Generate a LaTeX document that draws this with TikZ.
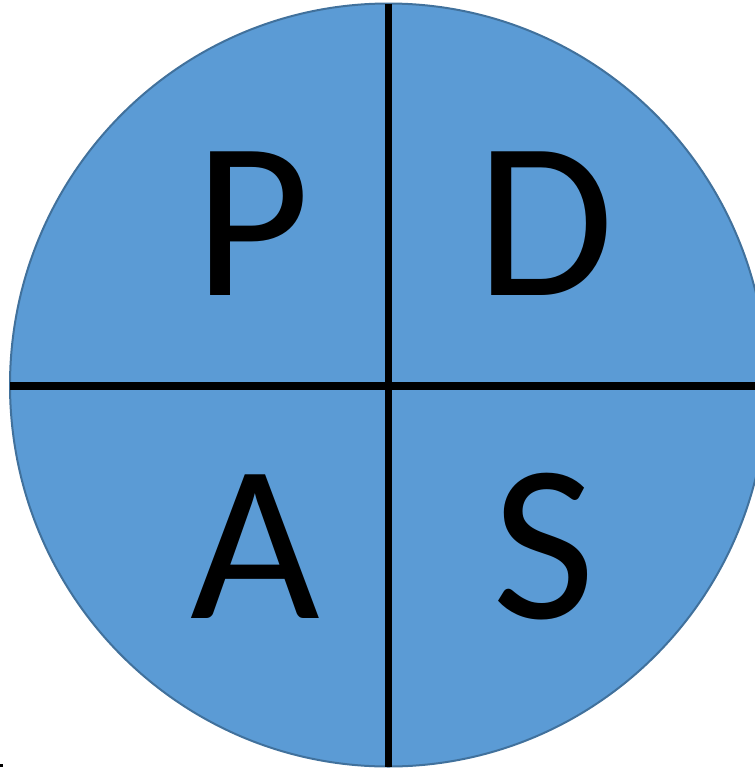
\documentclass[tikz,border=0pt]{standalone}
\usepackage{fontspec}
\setmainfont{Carlito}
\usetikzlibrary{shapes.geometric}
\definecolor{pdasfill}{HTML}{5B9BD5}
\definecolor{pdasedge}{HTML}{41719C}
\tikzset{
  quadletter/.style={inner sep=0pt, outer sep=0pt, anchor=base, font=\fontsize{224}{224}\selectfont},
  crossline/.style={line width=7.5pt, black},
}
\begin{document}
\begin{tikzpicture}[x=1pt, y=-1pt]
\useasboundingbox (0,0) rectangle (755,769);
\clip (0,0) rectangle (755,769);
\node[ellipse, fill=pdasfill, draw=pdasedge, line width=2pt, inner sep=0pt, outer sep=0pt,
      minimum width=757pt, minimum height=763pt] (c) at (388.5,385) {};
\draw[crossline] (c.north) -- (c.south);
\draw[crossline] ([yshift=-1pt]c.west) -- ([xshift=20pt,yshift=-1pt]c.east);
\node[quadletter] (p) at (252,295) {P};
\node[quadletter] (d) at (545,295) {D};
\node[quadletter] (a) at (255,618) {A};
\node[quadletter] (s) at (544,618) {S};
\fill (0,764) rectangle (3,767);
\end{tikzpicture}
\end{document}
